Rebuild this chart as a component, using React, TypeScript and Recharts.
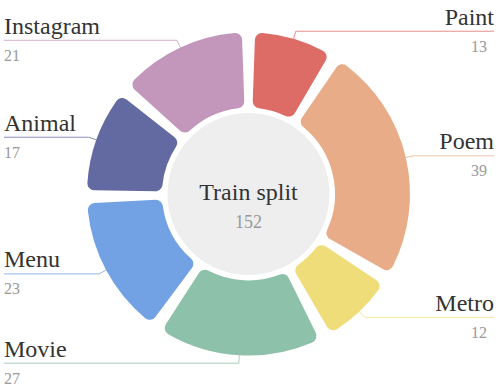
import React from 'react';
import { PieChart, Pie, Cell } from 'recharts';

const categories = ['Paint', 'Poem', 'Metro', 'Movie', 'Menu', 'Animal', 'Instagram'];
const values = [13, 39, 12, 27, 23, 17, 21];
const colors = ['#dd6b66', '#e8ad88', '#eedd78', '#8dc1a9', '#72a2e4', '#6369a1', '#c396bb'];
const centerTitle = 'Train split';
const centerValue = 152;

const data = categories.map((name, i) => ({ name, value: values[i] }));
const centerData = [{ name: centerTitle, value: centerValue }];

const FONT = '"Liberation Serif", "Times New Roman", Times, serif';
const RAD = Math.PI / 180;
const W = 498;
const H = 388;

function renderLabel(props: any) {
  const { cx, cy, midAngle, outerRadius, index, name, value } = props;
  const color = colors[index];
  const c = Math.cos(-midAngle * RAD);
  const s = Math.sin(-midAngle * RAD);
  const r0 = outerRadius - 1;
  const x0 = cx + r0 * c;
  const y0 = cy + r0 * s;
  const x1 = cx + (r0 + 8) * c;
  const y1 = cy + (r0 + 8) * s;
  const right = c >= 0;
  const x2 = right ? 494 : 4;
  return (
    <g>
      <polyline
        points={`${x0},${y0} ${x1},${y1} ${x2},${y1}`}
        fill="none"
        stroke={color}
        strokeOpacity={0.75}
        strokeWidth={1}
      />
      <text
        x={x2}
        y={y1 - 6.5}
        textAnchor={right ? 'end' : 'start'}
        fill="#333"
        fontSize={24}
        fontFamily={FONT}
      >
        {name}
      </text>
      <text
        x={right ? 487 : 4}
        y={y1 + 20.5}
        textAnchor={right ? 'end' : 'start'}
        fill="#999"
        fontSize={16}
        fontFamily={FONT}
      >
        {value}
      </text>
    </g>
  );
}

function renderCenter(props: any) {
  const { cx, cy, name, value } = props;
  return (
    <g>
      <text x={cx} y={cy + 6} textAnchor="middle" fill="#333" fontSize={24} fontFamily={FONT}>
        {name}
      </text>
      <text x={cx} y={cy + 33.5} textAnchor="middle" fill="#999" fontSize={18} fontFamily={FONT}>
        {value}
      </text>
    </g>
  );
}

export default function App() {
  return (
    <div style={{ position: 'absolute', left: 0, top: 0, width: W, height: H, background: '#fff' }}>
      <PieChart width={W} height={H} margin={{ top: 0, right: 0, bottom: 0, left: 0 }}>
        <Pie
          data={centerData}
          dataKey="value"
          nameKey="name"
          cx={248.5}
          cy={194}
          innerRadius={0}
          outerRadius={81}
          fill="#eeeeee"
          stroke="none"
          isAnimationActive={false}
          label={renderCenter}
          labelLine={false}
        />
        <Pie
          data={data}
          dataKey="value"
          nameKey="name"
          cx={248.5}
          cy={194}
          innerRadius={85.5}
          outerRadius={162.5}
          startAngle={88}
          endAngle={-272}
          paddingAngle={4}
          cornerRadius={8}
          stroke="#fff"
          strokeWidth={2}
          isAnimationActive={false}
          label={renderLabel}
          labelLine={false}
        >
          {data.map((d, i) => (
            <Cell key={d.name} fill={colors[i]} />
          ))}
        </Pie>
      </PieChart>
    </div>
  );
}
